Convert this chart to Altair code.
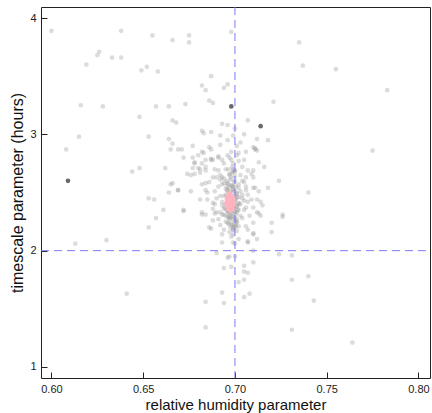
import altair as alt
import pandas as pd

# ---- data (x: relative humidity parameter, y: timescale parameter in hours)
outer_x = [0.600, 0.638, 0.655, 0.666, 0.675, 0.675, 0.626, 0.625, 0.633, 0.638, 0.619, 0.652, 0.649, 0.658,
           0.687, 0.682, 0.684, 0.686, 0.688, 0.616, 0.628, 0.657, 0.664, 0.673, 0.648, 0.666, 0.668, 0.682,
           0.683, 0.687, 0.615, 0.653, 0.664, 0.666, 0.669, 0.671, 0.677, 0.686, 0.608, 0.683, 0.680, 0.672,
           0.677, 0.684, 0.687, 0.644, 0.648, 0.662, 0.678, 0.680, 0.684, 0.674, 0.676, 0.678, 0.681, 0.665,
           0.664, 0.669, 0.676, 0.653, 0.656, 0.681, 0.684, 0.685]
outer_y = [3.89, 3.89, 3.85, 3.81, 3.85, 3.79, 3.71, 3.68, 3.66, 3.66, 3.60, 3.58, 3.55, 3.54,
           3.50, 3.42, 3.38, 3.29, 3.27, 3.25, 3.24, 3.24, 3.24, 3.26, 3.15, 3.12, 3.10, 3.03,
           3.01, 3.02, 2.98, 2.98, 2.96, 2.92, 2.87, 2.87, 2.90, 2.89, 2.87, 2.84, 2.82, 2.80,
           2.80, 2.78, 2.78, 2.68, 2.71, 2.71, 2.75, 2.71, 2.72, 2.66, 2.65, 2.66, 2.67, 2.57,
           2.50, 2.52, 2.51, 2.45, 2.44, 2.44, 2.58, 2.50]

upper_right_x = [0.698, 0.735, 0.737, 0.755, 0.783, 0.694, 0.696, 0.721, 0.707, 0.693, 0.696, 0.692, 0.699,
                 0.718, 0.712, 0.692, 0.710, 0.711, 0.712, 0.775, 0.702, 0.706, 0.713, 0.716, 0.724, 0.718,
                 0.740, 0.707, 0.705, 0.696, 0.691, 0.709, 0.710, 0.706, 0.712, 0.714, 0.692, 0.694]
upper_right_y = [3.88, 3.79, 3.59, 3.56, 3.38, 3.40, 3.43, 3.28, 3.12, 3.09, 3.08, 2.99, 2.99,
                 2.95, 2.96, 2.91, 2.89, 2.87, 2.86, 2.86, 2.84, 2.85, 2.76, 2.72, 2.60, 2.54,
                 2.50, 2.69, 2.78, 2.82, 2.81, 2.66, 2.54, 2.52, 2.44, 2.42, 2.61, 2.58]

lower_x = [0.613, 0.630, 0.641, 0.653, 0.657, 0.661, 0.672, 0.684, 0.687, 0.684, 0.684, 0.688,
           0.726, 0.720, 0.720, 0.712, 0.710, 0.707, 0.724, 0.731, 0.710, 0.705, 0.694, 0.698, 0.696,
           0.702, 0.731, 0.740, 0.693, 0.694, 0.705, 0.708, 0.743, 0.731, 0.764, 0.705, 0.707, 0.700,
           0.702, 0.693, 0.700, 0.707, 0.713, 0.715, 0.710]
lower_y = [2.06, 2.09, 1.63, 2.20, 2.28, 2.35, 2.35, 2.31, 2.19, 1.56, 1.34, 2.36,
           2.29, 2.24, 2.16, 2.10, 2.14, 2.18, 1.97, 1.96, 1.90, 1.87, 1.85, 1.86, 1.94,
           1.73, 1.75, 1.78, 1.64, 1.55, 1.60, 1.63, 1.57, 1.32, 1.21, 1.75, 1.81, 2.06,
           2.10, 2.07, 2.21, 2.07, 2.32, 2.39, 2.37]

cluster_x = [0.665, 0.682, 0.687, 0.687, 0.688, 0.678, 0.691, 0.693, 0.697, 0.698, 0.682, 0.677, 0.681,
             0.684, 0.689, 0.691, 0.699, 0.688, 0.690, 0.693, 0.698, 0.666, 0.669, 0.682, 0.686, 0.693,
             0.699, 0.684, 0.689, 0.692, 0.696, 0.685, 0.688, 0.693, 0.700, 0.690, 0.682, 0.697,
             0.711, 0.701, 0.704, 0.710, 0.699, 0.710, 0.705, 0.702, 0.711, 0.713, 0.707, 0.704, 0.709,
             0.726, 0.702, 0.706, 0.712, 0.701,
             0.672, 0.686, 0.689, 0.693, 0.697, 0.692, 0.694, 0.699, 0.693, 0.698, 0.699, 0.690, 0.697,
             0.682, 0.688, 0.714, 0.710, 0.706, 0.701, 0.699, 0.710, 0.707, 0.710, 0.700, 0.705]
cluster_y = [2.87, 2.85, 2.87, 2.79, 2.78, 2.76, 2.80, 2.78, 2.80, 2.78, 2.75, 2.71, 2.70,
             2.69, 2.70, 2.69, 2.70, 2.63, 2.63, 2.63, 2.63, 2.58, 2.52, 2.57, 2.59, 2.57,
             2.55, 2.52, 2.51, 2.47, 2.51, 2.44, 2.41, 2.39, 2.45, 2.33, 2.33, 2.32,
             2.88, 2.82, 2.72, 2.69, 2.68, 2.63, 2.59, 2.54, 2.54, 2.51, 2.48, 2.45, 2.44,
             2.31, 2.41, 2.37, 2.33, 2.33,
             2.34, 2.20, 2.32, 2.31, 2.29, 2.22, 2.18, 2.20, 2.14, 2.12, 2.07, 1.98, 1.95,
             2.31, 2.26, 2.30, 2.24, 2.21, 2.24, 2.18, 2.15, 2.08, 2.00, 1.95, 1.82]

core_x = [0.694, 0.696, 0.698, 0.700, 0.702, 0.695, 0.697, 0.699, 0.701, 0.703, 0.694, 0.696, 0.698,
          0.700, 0.702, 0.704, 0.693, 0.695, 0.697, 0.699, 0.701, 0.703, 0.705, 0.694, 0.696, 0.698,
          0.700, 0.702, 0.695, 0.697, 0.699, 0.701, 0.703, 0.696, 0.698, 0.700, 0.702, 0.697, 0.699,
          0.701, 0.691, 0.690, 0.689, 0.706, 0.707, 0.705, 0.704, 0.692, 0.691, 0.708, 0.697, 0.700,
          0.703, 0.695, 0.699, 0.702, 0.704, 0.692, 0.706, 0.694, 0.698, 0.701, 0.696, 0.703, 0.705,
          0.700]
core_y = [2.62, 2.58, 2.56, 2.60, 2.57, 2.53, 2.50, 2.52, 2.49, 2.51, 2.47, 2.45, 2.47,
          2.43, 2.46, 2.48, 2.42, 2.40, 2.38, 2.40, 2.38, 2.40, 2.43, 2.36, 2.34, 2.35,
          2.33, 2.35, 2.30, 2.27, 2.29, 2.27, 2.30, 2.24, 2.22, 2.25, 2.21, 2.16, 2.14,
          2.17, 2.55, 2.45, 2.40, 2.55, 2.42, 2.35, 2.28, 2.33, 2.27, 2.30, 2.66, 2.68,
          2.65, 2.70, 2.75, 2.77, 2.60, 2.65, 2.63, 2.75, 2.85, 2.90, 2.95, 2.93, 3.00,
          3.05]

# densest part of the cloud, around the pink estimate
dense_x = [0.6955, 0.6965, 0.6975, 0.6985, 0.6995, 0.7005, 0.6960, 0.6970, 0.6980, 0.6990, 0.7000,
           0.7010, 0.6950, 0.6962, 0.6972, 0.6982, 0.6992, 0.7002, 0.7012, 0.6958, 0.6968, 0.6978,
           0.6988, 0.6998, 0.7008, 0.6945, 0.6955, 0.6965, 0.6975, 0.6985, 0.6995, 0.7005, 0.7015,
           0.6960, 0.6970, 0.6980, 0.6990, 0.7000, 0.6950, 0.6965, 0.6980, 0.6995, 0.7010, 0.6940,
           0.6970, 0.6985, 0.7000, 0.7020, 0.6955, 0.6975, 0.6990, 0.7005, 0.6965, 0.6985, 0.7000]
dense_y = [2.60, 2.57, 2.61, 2.56, 2.59, 2.55, 2.52, 2.54, 2.50, 2.53, 2.51,
           2.49, 2.48, 2.46, 2.49, 2.45, 2.47, 2.44, 2.46, 2.42, 2.40, 2.43,
           2.39, 2.41, 2.38, 2.37, 2.35, 2.33, 2.36, 2.32, 2.34, 2.31, 2.35,
           2.29, 2.28, 2.30, 2.27, 2.28, 2.25, 2.23, 2.24, 2.22, 2.25, 2.31,
           2.65, 2.67, 2.64, 2.40, 2.55, 2.20, 2.18, 2.21, 2.70, 2.72, 2.69]

dark_x = [0.609, 0.698, 0.714]
dark_y = [2.60, 3.24, 3.07]

pink_x = [0.6965, 0.6975, 0.6985, 0.6960, 0.6970, 0.6980, 0.6990, 0.6955, 0.6965, 0.6975, 0.6985, 0.6993,
          0.6958, 0.6968, 0.6978, 0.6988, 0.6963, 0.6973, 0.6983, 0.6970, 0.6978, 0.6962, 0.6990, 0.6975]
pink_y = [2.36, 2.35, 2.36, 2.38, 2.39, 2.38, 2.39, 2.41, 2.42, 2.41, 2.42, 2.41,
          2.44, 2.45, 2.44, 2.45, 2.47, 2.48, 2.47, 2.49, 2.37, 2.40, 2.44, 2.46]

ref_x = [0.70]
ref_y = [2.0]
x_ticks = [0.60, 0.65, 0.70, 0.75, 0.80]
y_ticks = [1, 2, 3, 4]

# ---- tables
gray = pd.DataFrame({
    "x": outer_x + upper_right_x + lower_x + cluster_x + core_x + dense_x,
    "y": outer_y + upper_right_y + lower_y + cluster_y + core_y + dense_y,
})
dark = pd.DataFrame({"x": dark_x, "y": dark_y})
pink = pd.DataFrame({"x": pink_x, "y": pink_y})
vline = pd.DataFrame({"x": ref_x})
hline = pd.DataFrame({"y": ref_y})

W, H = 389, 371
FONT = "Liberation Sans"
TICK = 6

xscale = alt.Scale(domain=[0.5943, 0.8063], nice=False, zero=False)
yscale = alt.Scale(domain=[0.9054, 4.0946], nice=False, zero=False)

# inward-pointing ticks: axis moved inside by TICK px, ticks of TICK px reach back to the frame
xaxis = alt.Axis(values=x_ticks, format=".2f", title="relative humidity parameter",
                 domain=False, ticks=True, tickSize=TICK, offset=-TICK, tickColor="#222222",
                 grid=False, labelPadding=5, labelFont=FONT, titleFont=FONT,
                 labelFontSize=11, labelColor="#222222", titleFontSize=15,
                 titleFontWeight="normal", titleColor="#111111", titlePadding=3)
yaxis = alt.Axis(values=y_ticks, format="d", title="timescale parameter (hours)",
                 domain=False, ticks=True, tickSize=TICK, offset=-TICK, tickColor="#222222",
                 grid=False, labelPadding=5, labelFont=FONT, titleFont=FONT,
                 labelFontSize=11, labelColor="#222222", titleFontSize=16,
                 titleFontWeight="normal", titleColor="#111111", titlePadding=4)

X = alt.X("x:Q", scale=xscale, axis=xaxis)
Y = alt.Y("y:Q", scale=yscale, axis=yaxis)

gray_layer = alt.Chart(gray).mark_circle(size=22, color="#8a8a8a", opacity=0.3).encode(x=X, y=Y)

dash_color = "#7c7cf4"
v_layer = alt.Chart(vline).mark_rule(stroke=dash_color, strokeDash=[8, 5], strokeWidth=1).encode(
    x=alt.X("x:Q", scale=xscale, axis=xaxis), y=alt.value(0), y2=alt.value(H))
h_layer = alt.Chart(hline).mark_rule(stroke=dash_color, strokeDash=[8, 5], strokeWidth=1).encode(
    y=alt.Y("y:Q", scale=yscale, axis=yaxis), x=alt.value(0), x2=alt.value(W))

pink_layer = alt.Chart(pink).mark_circle(size=26, color="#ffb3bf", opacity=1).encode(x=X, y=Y)
dark_layer = alt.Chart(dark).mark_circle(size=22, color="#6a6a6a", opacity=1).encode(x=X, y=Y)

chart = alt.layer(
    gray_layer, v_layer, h_layer, pink_layer, dark_layer
).properties(
    width=W, height=H,
    autosize=alt.AutoSizeParams(type="none"),
    padding={"left": 41, "top": 7, "right": 2, "bottom": 35},
    background="white",
).configure_view(
    stroke="#222222", strokeWidth=1
)

chart.save("out.html", embed_options={"renderer": "svg", "actions": False})
